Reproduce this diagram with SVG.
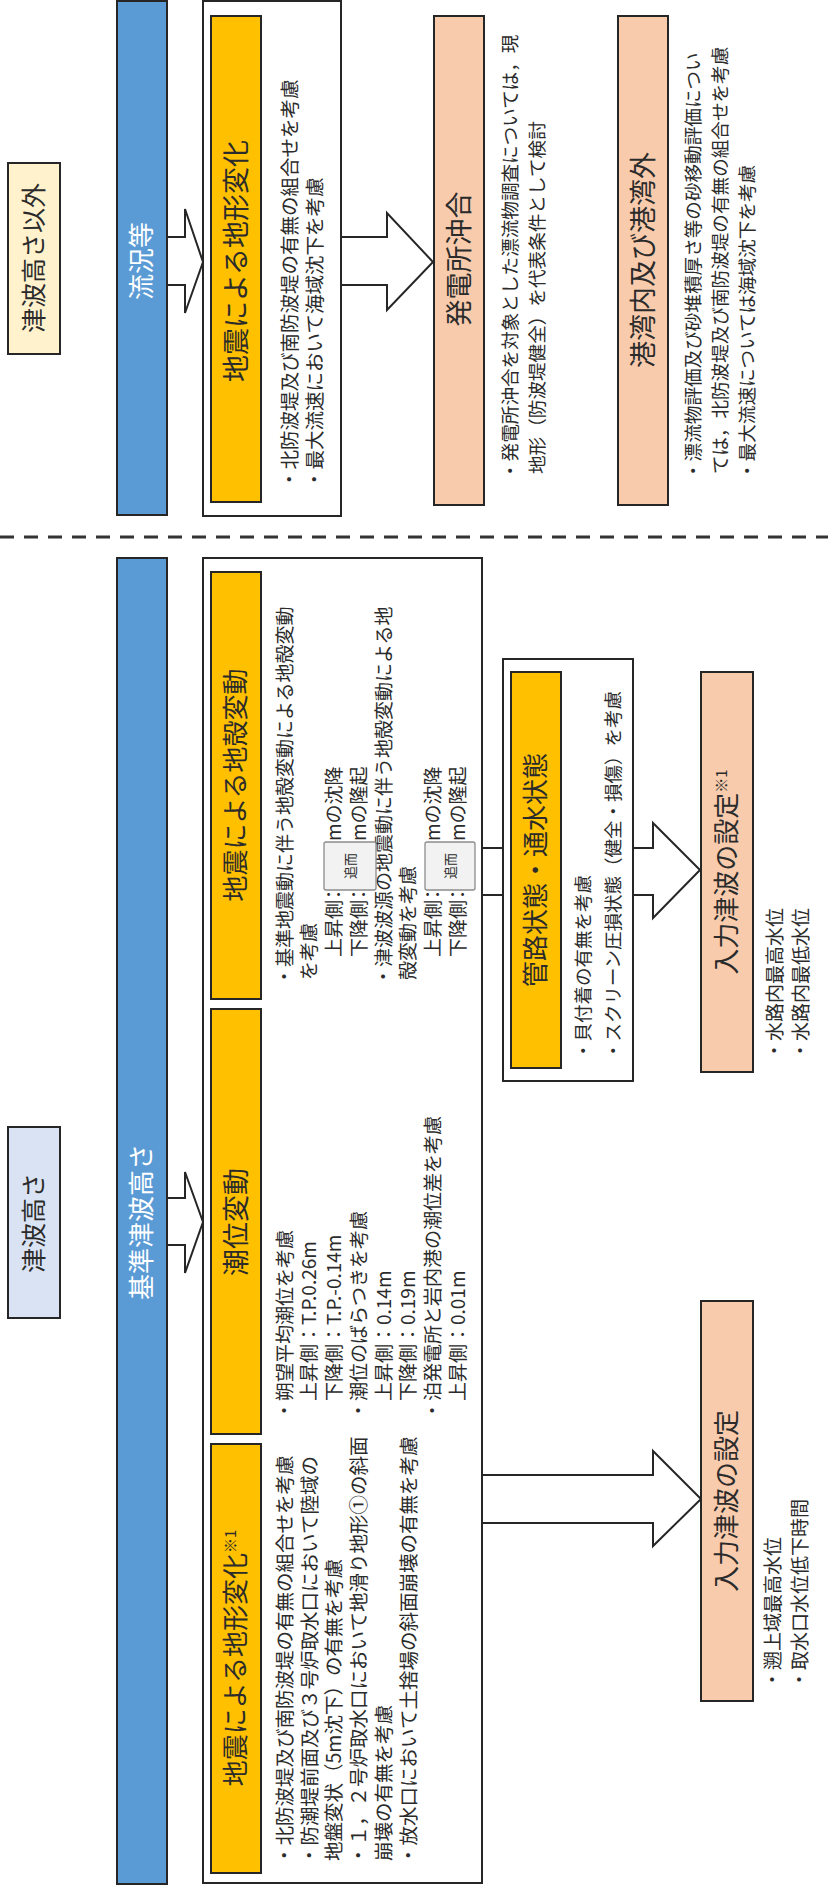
<svg xmlns="http://www.w3.org/2000/svg" width="828" height="1885" viewBox="0 0 828 1885">
<style>
.bx{stroke:#262626;stroke-width:2}
.blue{fill:#5B9BD5}
.org{fill:#FFC000}
.sal{fill:#F8CBAD}
.wht{fill:#FFFFFF}
.hd1{fill:#FFF2CC}
.hd2{fill:#DAE3F3}
.t{font-family:"Noto Sans CJK JP","Noto Sans CJK SC",sans-serif;fill:#2b2b2b}
.h{text-anchor:middle}
.w{fill:#FFFFFF}
.arr{fill:#FFFFFF;stroke:#262626;stroke-width:2;stroke-linejoin:miter}
.tag{fill:#F2F2F2;stroke:#8C8C8C;stroke-width:1.3}
</style>
<rect width="828" height="1885" fill="#FFFFFF"/>

<!-- separator -->
<line x1="0" y1="537" x2="828" y2="537" stroke="#333" stroke-width="3" stroke-dasharray="14 10"/>

<!-- connectors -->
<g id="connectors">
  <polygon class="arr" points="167,237 185,237 185,209 203,262 185,313 185,285 167,285"/>
  <polygon class="arr" points="341,237 387,237 387,213 433,262 387,310 387,285 341,285"/>
  <polygon class="arr" points="167,1198 185,1198 185,1172 203,1222 185,1273 185,1245 167,1245"/>
  <polygon class="arr" points="633,848 653,848 653,823 700,870 653,918 653,895 633,895"/>
  <polygon class="arr" points="482,1475 653,1475 653,1451 701,1499 653,1546 653,1523 482,1523"/>
  <line x1="482" y1="848" x2="503" y2="848" stroke="#262626" stroke-width="2"/>
  <line x1="482" y1="895" x2="503" y2="895" stroke="#262626" stroke-width="2"/>
</g>

<!-- upper section -->
<g id="hdr-other">
  <rect class="bx hd1" x="8" y="163" width="52" height="191"/>
  <text class="t h" font-size="25" transform="translate(43,258) rotate(-90)">津波高さ以外</text>
</g>
<g id="bar-flow">
  <rect class="bx blue" x="117" y="1" width="50" height="514"/>
  <text class="t h w" font-size="26" transform="translate(151,261) rotate(-90)">流況等</text>
</g>
<g id="box-top">
  <rect class="bx wht" x="203" y="1" width="138" height="515"/>
  <rect class="bx org" x="211" y="16" width="50" height="486"/>
  <text class="t h" font-size="27" transform="translate(246,261) rotate(-90)">地震による地形変化</text>
  <text class="t" font-size="19.5" transform="translate(297,489) rotate(-90)">
    <tspan x="0" y="0">・北防波堤及び南防波堤の有無の組合せを考慮</tspan>
    <tspan x="0" y="25">・最大流速において海域沈下を考慮</tspan>
  </text>
</g>
<g id="box-offshore">
  <rect class="bx sal" x="434" y="16" width="50" height="489"/>
  <text class="t h" font-size="27" transform="translate(469,259) rotate(-90)">発電所沖合</text>
  <text class="t" font-size="18.6" transform="translate(516.7,480) rotate(-90)">
    <tspan x="0" y="0">・発電所沖合を対象とした漂流物調査については，現</tspan>
    <tspan x="6" y="27">地形（防波堤健全）を代表条件として検討</tspan>
  </text>
</g>
<g id="box-harbor">
  <rect class="bx sal" x="618" y="16" width="50" height="489"/>
  <text class="t h" font-size="27" transform="translate(653,260) rotate(-90)">港湾内及び港湾外</text>
  <text class="t" font-size="18.6" transform="translate(699.7,480) rotate(-90)">
    <tspan x="0" y="0">・漂流物評価及び砂堆積厚さ等の砂移動評価につい</tspan>
    <tspan x="6" y="27">ては，北防波堤及び南防波堤の有無の組合せを考慮</tspan>
    <tspan x="0" y="54">・最大流速については海域沈下を考慮</tspan>
  </text>
</g>

<!-- lower section -->
<g id="hdr-height">
  <rect class="bx hd2" x="8" y="1127" width="52" height="191"/>
  <text class="t h" font-size="25" transform="translate(43,1223) rotate(-90)">津波高さ</text>
</g>
<g id="bar-base">
  <rect class="bx blue" x="117" y="558" width="50" height="1326"/>
  <text class="t h w" font-size="26" transform="translate(151,1222) rotate(-90)">基準津波高さ</text>
</g>
<g id="box-bottom">
  <rect class="bx wht" x="203" y="558" width="279" height="1325"/>
</g>
<g id="crust">
  <rect class="bx org" x="211" y="572" width="50" height="427"/>
  <text class="t h" font-size="26" transform="translate(245,785) rotate(-90)">地震による地殻変動</text>
  <text class="t" font-size="19" transform="translate(291.8,986) rotate(-90)">
    <tspan x="0" y="0">・基準地震動に伴う地殻変動による地殻変動</tspan>
    <tspan x="6" y="24.7">を考慮</tspan>
    <tspan x="29" y="49.4">上昇側</tspan><tspan x="82" y="49.4">：</tspan><tspan x="145" y="49.4">mの沈降</tspan>
    <tspan x="29" y="74.1">下降側</tspan><tspan x="82" y="74.1">：</tspan><tspan x="145" y="74.1">mの隆起</tspan>
    <tspan x="0" y="98.8">・津波波源の地震動に伴う地殻変動による地</tspan>
    <tspan x="6" y="123.5">殻変動を考慮</tspan>
    <tspan x="29" y="148.2">上昇側</tspan><tspan x="82" y="148.2">：</tspan><tspan x="145" y="148.2">mの沈降</tspan>
    <tspan x="29" y="172.9">下降側</tspan><tspan x="82" y="172.9">：</tspan><tspan x="145" y="172.9">mの隆起</tspan>
  </text>
  <rect class="tag" x="324" y="842" width="52" height="48" rx="2"/>
  <text class="t h" font-size="13" transform="translate(354.7,866) rotate(-90)">追而</text>
  <rect class="tag" x="425" y="842" width="50" height="48" rx="2"/>
  <text class="t h" font-size="13" transform="translate(454.7,866) rotate(-90)">追而</text>
</g>
<g id="tide">
  <rect class="bx org" x="211" y="1009" width="50" height="425"/>
  <text class="t h" font-size="27" transform="translate(246,1222) rotate(-90)">潮位変動</text>
  <text class="t" font-size="19" transform="translate(291.8,1420) rotate(-90)">
    <tspan x="0" y="0">・朔望平均潮位を考慮</tspan>
    <tspan x="19" y="24.7">上昇側：T.P.0.26m</tspan>
    <tspan x="19" y="49.4">下降側：T.P.-0.14m</tspan>
    <tspan x="0" y="74.1">・潮位のばらつきを考慮</tspan>
    <tspan x="19" y="98.8">上昇側：0.14m</tspan>
    <tspan x="19" y="123.5">下降側：0.19m</tspan>
    <tspan x="0" y="148.2">・泊発電所と岩内港の潮位差を考慮</tspan>
    <tspan x="19" y="172.9">上昇側：0.01m</tspan>
  </text>
</g>
<g id="terrain">
  <rect class="bx org" x="211" y="1444" width="50" height="429"/>
  <text class="t h" font-size="26" transform="translate(245,1658) rotate(-90)">地震による地形変化<tspan font-size="15" dy="-9">※1</tspan></text>
  <text class="t" font-size="19.5" transform="translate(292,1865) rotate(-90)">
    <tspan x="0" y="0">・北防波堤及び南防波堤の有無の組合せを考慮</tspan>
    <tspan x="0" y="24.7">・防潮堤前面及び３号炉取水口において陸域の</tspan>
    <tspan x="4" y="49.4">地盤変状（5m沈下）の有無を考慮</tspan>
    <tspan x="0" y="74.1">・１，２号炉取水口において地滑り地形①の斜面</tspan>
    <tspan x="4" y="98.8">崩壊の有無を考慮</tspan>
    <tspan x="0" y="123.5">・放水口において土捨場の斜面崩壊の有無を考慮</tspan>
  </text>
</g>
<g id="pipe">
  <rect class="bx wht" x="503" y="659" width="130" height="422"/>
  <rect class="bx org" x="511" y="672" width="50" height="396"/>
  <text class="t h" font-size="26" transform="translate(545,870) rotate(-90)">管路状態・通水状態</text>
  <text class="t" font-size="18.5" transform="translate(589.7,1060) rotate(-90)">
    <tspan x="0" y="0">・貝付着の有無を考慮</tspan>
    <tspan x="0" y="30">・スクリーン圧損状態（健全・損傷）を考慮</tspan>
  </text>
</g>
<g id="input1">
  <rect class="bx sal" x="701" y="672" width="52" height="400"/>
  <text class="t h" font-size="26" transform="translate(736,872) rotate(-90)">入力津波の設定<tspan font-size="15" dy="-9">※1</tspan></text>
  <text class="t" font-size="19" transform="translate(781.8,1060) rotate(-90)">
    <tspan x="0" y="0">・水路内最高水位</tspan>
    <tspan x="0" y="26">・水路内最低水位</tspan>
  </text>
</g>
<g id="input2">
  <rect class="bx sal" x="701" y="1301" width="52" height="400"/>
  <text class="t h" font-size="26" transform="translate(736,1501) rotate(-90)">入力津波の設定</text>
  <text class="t" font-size="19" transform="translate(779.8,1689) rotate(-90)">
    <tspan x="0" y="0">・遡上域最高水位</tspan>
    <tspan x="0" y="27">・取水口水位低下時間</tspan>
  </text>
</g>
</svg>
